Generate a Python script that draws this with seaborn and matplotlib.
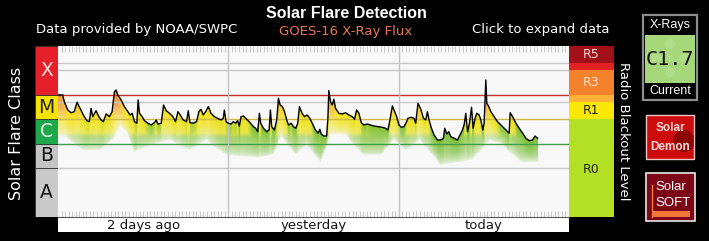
import numpy as np
import matplotlib
matplotlib.use('Agg')
import matplotlib.pyplot as plt
import seaborn as sns
import pandas as pd
from matplotlib.colors import LinearSegmentedColormap
from matplotlib.patches import Rectangle, Circle, Ellipse

# ---------------- data ----------------
hours = [0.0, 0.66, 0.89, 1.37, 1.84, 2.30, 2.68, 3.11, 3.57, 4.05,
         4.42, 4.66, 4.90, 5.36, 5.75, 6.07, 6.40, 6.78, 7.24, 7.62,
         7.95, 8.19, 8.43, 8.89, 9.36, 9.84, 10.16, 10.45, 10.77, 11.11,
         11.29, 11.48, 11.86, 12.18, 12.66, 13.13, 13.60, 13.84, 14.08, 14.54,
         14.87, 15.25, 15.71, 16.19, 16.56, 16.90, 17.22, 17.65, 18.11, 18.35,
         18.59, 19.06, 19.52, 19.86, 20.15, 20.47, 20.80, 21.18, 21.56, 22.02,
         22.49, 22.97, 23.29, 23.44, 23.68, 24.00, 24.38, 24.71, 25.03, 25.31,
         25.55, 25.79, 26.12, 26.58, 27.06, 27.53, 27.85, 28.14, 28.38, 28.56,
         28.94, 29.41, 29.75, 29.93, 30.11, 30.49, 30.82, 31.06, 31.30, 31.62,
         31.91, 32.23, 32.47, 32.85, 33.18, 33.50, 33.78, 34.02, 34.38, 34.73,
         35.11, 35.48, 35.82, 36.28, 36.66, 36.89, 37.09, 37.45, 37.84, 38.02,
         38.16, 38.40, 38.64, 38.87, 39.11, 39.57, 40.05, 40.52, 40.98, 41.46,
         41.79, 42.07, 42.40, 42.73, 43.10, 43.58, 44.05, 44.51, 45.08, 45.70,
         46.16, 46.49, 46.77, 47.11, 47.44, 47.72, 48.04, 48.38, 48.75, 49.13,
         49.31, 49.69, 50.16, 50.40, 50.72, 51.11, 51.49, 51.81, 52.05, 52.28,
         52.62, 52.98, 53.46, 53.93, 54.31, 54.49, 54.78, 55.06, 55.34, 55.81,
         56.29, 56.65, 56.99, 57.22, 57.46, 57.70, 57.98, 58.27, 58.49, 58.77,
         59.01, 59.34, 59.58, 59.86, 60.04, 60.28, 60.42, 60.66, 60.99, 61.45,
         61.93, 62.40, 62.87, 63.35, 63.57, 63.71, 64.05, 64.52, 64.98, 65.46,
         65.93, 66.39, 66.87, 67.20, 67.58]

flux_long = [9.9e-5, 9.9e-5, 5.2e-5, 2.4e-5, 1.86e-5, 2.05e-5, 5.0e-5, 2.8e-5, 1.5e-5, 8.8e-6,
             8.0e-6, 2.8e-5, 1.28e-5, 2.25e-5, 1.28e-5, 9.35e-6, 8.0e-6, 1.65e-5, 1.28e-5, 2.05e-5,
             1.35e-4, 1.58e-4, 9.9e-5, 6.2e-5, 3.3e-5, 2.05e-5, 1.5e-5, 1.76e-5, 8.0e-6, 6.9e-6,
             6.2e-5, 1.76e-5, 1.28e-5, 8.8e-6, 6.9e-6, 5.85e-6, 7.3e-6, 9.35e-6, 6.4e-6, 6.9e-6,
             3.85e-5, 2.25e-5, 1.76e-5, 1.28e-5, 8.0e-6, 2.05e-5, 1.5e-5, 9.35e-6, 8.0e-6, 2.25e-5,
             7.3e-6, 6.9e-6, 8.0e-6, 2.05e-5, 2.56e-5, 1.5e-5, 2.05e-5, 3.3e-5, 1.76e-5, 1.28e-5,
             1.1e-5, 9.35e-6, 1.1e-5, 2.4e-5, 8.0e-6, 6.9e-6, 6.4e-6, 8.0e-6, 6.9e-6, 8.8e-6,
             5.3e-6, 1.28e-5, 1.36e-5, 1.0e-5, 7.3e-6, 5.0e-6, 4.3e-6, 3.1e-6, 1.76e-5, 6.9e-6,
             4.3e-6, 3.1e-6, 3.65e-6, 2.4e-5, 5.0e-6, 3.65e-6, 9.35e-6, 7.2e-5, 3.85e-5, 3.3e-5,
             2.05e-5, 9.35e-6, 5.85e-6, 6.9e-6, 5.0e-6, 4.3e-6, 6.9e-6, 3.3e-5, 1.76e-5, 1.28e-5,
             1.5e-5, 1.1e-5, 6.9e-6, 3.65e-6, 2.7e-6, 3.9e-6, 2.5e-6, 2.07e-6, 2.07e-6, 9.35e-6,
             1.5e-4, 5.2e-5, 3.85e-5, 6.6e-5, 2.8e-5, 1.76e-5, 1.65e-5, 1.86e-5, 1.5e-5, 1.28e-5,
             1.0e-5, 2.4e-5, 1.76e-5, 7.3e-6, 5.85e-6, 6.4e-6, 5.85e-6, 5.3e-6, 5.0e-6, 4.7e-6,
             4.3e-6, 3.65e-6, 9.35e-6, 3.5e-5, 2.05e-5, 1.28e-5, 5.85e-6, 4.7e-6, 5.0e-6, 8.0e-6,
             1.1e-5, 1.21e-5, 1.1e-5, 6.9e-6, 4.5e-5, 2.6e-5, 1.1e-5, 9.35e-6, 2.05e-5, 9.35e-6,
             4.3e-6, 2.3e-6, 1.42e-6, 1.42e-6, 1.67e-6, 4.3e-6, 2.5e-6, 3.1e-6, 1.94e-6, 1.67e-6,
             1.42e-6, 2.3e-6, 3.65e-6, 5.85e-6, 1.76e-5, 3.1e-6, 6.9e-6, 3.1e-5, 4.3e-6, 1.1e-5,
             1.76e-5, 1.5e-5, 9.35e-6, 3.65e-6, 6.9e-6, 4.1e-4, 4.5e-5, 3.5e-5, 2.05e-5, 1.28e-5,
             8.0e-6, 5.85e-6, 4.3e-6, 3.1e-6, 2.7e-6, 1.86e-5, 1.28e-5, 6.9e-6, 4.3e-6, 2.7e-6,
             1.67e-6, 1.33e-6, 1.42e-6, 2.07e-6, 1.67e-6]

short_hours = [0.0, 1.1, 3.4, 5.9, 7.8, 8.75, 9.7, 10.7, 13.0, 15.7,
               18.5, 20.9, 23.6, 28.1, 30.2, 31.5, 33.5, 35.0, 37.0, 38.4,
               40.5, 42.9, 45.5, 47.3, 49.1, 51.0, 53.9, 58.4, 60.8, 62.4,
               65.2, 67.6]
flux_short = [1.9e-6, 1.9e-6, 5.5e-7, 5.5e-7, 1.5e-6, 5.85e-6, 3.0e-6, 4.6e-7, 8.9e-7, 1.42e-6,
              5.5e-7, 1.42e-6, 3.45e-7, 2.6e-7, 3.45e-7, 1.9e-6, 3.45e-7, 8.9e-7, 1.78e-7, 2.5e-6,
              2.3e-6, 3.45e-7, 3.45e-7, 1.42e-6, 5.5e-7, 1.42e-6, 1.35e-7, 2.16e-7, 1.42e-6, 1.0e-6,
              1.78e-7, 1.78e-7]

class_names = ['A', 'B', 'C', 'M', 'X']
class_low = [1e-9, 1e-7, 1e-6, 1e-5, 1e-4]
class_high = [1e-7, 1e-6, 1e-5, 1e-4, 1e-2]
class_colors = ['#c9c9c9', '#c4c4c4', '#1ea84b', '#f6e400', '#e5202a']
class_text_colors = ['#111111', '#111111', '#e4f4e4', '#222222', '#fae0e0']

r_names = ['R0', 'R1', 'R2', 'R3', 'R4', 'R5']
r_low = [1e-9, 1e-5, 5e-5, 1e-4, 1e-3, 2e-3]
r_high = [1e-5, 5e-5, 1e-4, 1e-3, 2e-3, 1e-2]
r_colors = ['#b3e024', '#fbe800', '#fbb236', '#f5832e', '#e02222', '#a10f19']
r_text = ['R0', 'R1', '', 'R3', '', 'R5']
r_text_colors = ['#222222', '#222222', '#222222', '#fde0c8', '#ffffff', '#f6d6d6']

day_centers = [12, 36, 60]
day_labels = ['2 days ago', 'yesterday', 'today']
day_bounds = [24, 48]
current_value = 'C1.7'

# ---------------- figure ----------------
W, H = 709, 241
fig = plt.figure(figsize=(W / 100, H / 100), dpi=100, facecolor='black')


def px_axes(x0, y0, x1, y1, **kw):
    return fig.add_axes([x0 / W, 1 - y1 / H, (x1 - x0) / W, (y1 - y0) / H], **kw)


def ftext(x, y, s, **kw):
    fig.text(x / W, 1 - y / H, s, **kw)


ax = px_axes(58, 46, 569, 217)
ax.set_facecolor('#f8f8f8')
ax.set_yscale('log')
ax.set_xlim(0, 72)
ax.set_ylim(1e-9, 1e-2)

# gradient fill between long and short channel
stops = [(-7.0, '#8ccc52'), (-5.9, '#74bc34'), (-5.25, '#86c434'), (-5.05, '#e4e018'),
         (-4.6, '#f6e312'), (-4.25, '#f2c030'), (-3.9, '#ec9640'), (-3.0, '#e57a40')]
cmap = LinearSegmentedColormap.from_list('flare', [((v + 7) / 4, c) for v, c in stops])
nx, ny = 540, 350
t_edges = np.linspace(0, 72, nx + 1)
v_edges = np.linspace(-9, -2, ny + 1)
tc = 0.5 * (t_edges[:-1] + t_edges[1:])
vc = 0.5 * (v_edges[:-1] + v_edges[1:])
top = np.interp(tc, hours, np.log10(flux_long))
low = np.interp(tc, short_hours, np.log10(flux_short))
low = np.minimum(low, top - 0.3)
frac = (vc[:, None] - low[None, :]) / (top - low)[None, :]
alpha = np.clip(frac, 0, 1) ** 0.5
alpha[vc[:, None] > top[None, :]] = 0
alpha[:, (tc < hours[0]) | (tc > hours[-1])] = 0
cval = np.minimum(top[None, :], vc[:, None] + 0.5)
rgba = cmap(np.clip((cval + 7) / 4, 0, 1))
rgba[..., 3] = alpha
ax.pcolormesh(t_edges, 10 ** v_edges, rgba, shading='flat', zorder=1, rasterized=True)

# reference lines
for yv, col in [(2e-3, '#c8c8c8'), (1e-3, '#c8c8c8'), (5e-5, '#c8c8c8'), (1e-7, '#c8c8c8'),
                (1e-4, '#c6302e'), (1e-5, '#cdb945'), (1e-6, '#3f9f48')]:
    ax.axhline(yv, color=col, lw=1.0, zorder=2)
for xv in day_bounds:
    ax.axvline(xv, color='#c4c4c4', lw=1.0, zorder=2)

df = pd.DataFrame({'hours': hours, 'flux': flux_long})
sns.lineplot(data=df, x='hours', y='flux', ax=ax, color='black', lw=1.0, zorder=4)
ax.set_xlabel('')
ax.set_ylabel('')
ax.set_xticks(np.arange(0.5, 72, 0.5))
ax.set_xticklabels([])
ax.set_yticks([])
ax.set_yticks([], minor=True)
ax.tick_params(axis='x', direction='in', length=4, width=0.6, color='#c0c0c0',
               top=True, bottom=True, labelbottom=False)
for s in ax.spines.values():
    s.set_visible(False)

# class bar on the left
axc = px_axes(35, 46, 58, 217)
axc.set_yscale('log')
axc.bar([0] * 5, [h - l for h, l in zip(class_high, class_low)], bottom=class_low, width=1.0,
        color=class_colors, edgecolor='#333333', linewidth=0.6)
for n, l, h, tcl in zip(class_names, class_low, class_high, class_text_colors):
    axc.text(0, np.sqrt(l * h), n, ha='center', va='center', fontsize=13.5, color=tcl,
             family='DejaVu Sans')
axc.set_xlim(-0.5, 0.5)
axc.set_ylim(1e-9, 1e-2)
axc.axis('off')

# radio blackout bar on the right
axr = px_axes(569, 46, 614, 217)
axr.set_yscale('log')
axr.bar([0] * 6, [h - l for h, l in zip(r_high, r_low)], bottom=r_low, width=1.0,
        color=r_colors, edgecolor='none')
for n, l, h, tcl in zip(r_text, r_low, r_high, r_text_colors):
    if n:
        yy = np.sqrt(l * h) if n != 'R0' else 8.4e-8
        axr.text(0, yy, n, ha='center', va='center', fontsize=9, color=tcl, family='DejaVu Sans')
axr.set_xlim(-0.5, 0.5)
axr.set_ylim(1e-9, 1e-2)
axr.axis('off')

# day label strip
axl = px_axes(58, 217, 569, 232)
axl.set_facecolor('white')
axl.set_xlim(0, 72)
axl.set_ylim(0, 1)
for xc, lab in zip(day_centers, day_labels):
    axl.text(xc, 0.45, lab, ha='center', va='center', fontsize=9.5, color='#151515',
             family='DejaVu Sans')
axl.set_xticks([])
axl.set_yticks([])
for k, s in axl.spines.items():
    s.set_visible(k == 'top')
axl.spines['top'].set_color('#555555')
axl.spines['top'].set_linewidth(0.8)

# texts
ftext(346, 13.5, 'Solar Flare Detection', ha='center', va='center', fontsize=11.5,
      fontweight='bold', color='white', family='Liberation Sans')
ftext(345.5, 31.5, 'GOES-16 X-Ray Flux', ha='center', va='center', fontsize=9.5,
      color='#e8784a', family='DejaVu Sans')
ftext(36, 29.5, 'Data provided by NOAA/SWPC', ha='left', va='center', fontsize=9.5,
      color='white', family='DejaVu Sans')
ftext(609, 29.5, 'Click to expand data', ha='right', va='center', fontsize=9.5,
      color='white', family='DejaVu Sans')
ftext(17, 133, 'Solar Flare Class', ha='center', va='center', rotation=90, fontsize=11.5,
      color='white', family='DejaVu Sans')
ftext(623, 131, 'Radio Blackout Level', ha='center', va='center', rotation=270, fontsize=9.5,
      color='white', family='DejaVu Sans')

# right side widgets in pixel coordinates
ov = fig.add_axes([0, 0, 1, 1], facecolor='none')
ov.set_xlim(0, W)
ov.set_ylim(H, 0)
ov.axis('off')

ov.add_patch(Rectangle((643, 15), 54, 85, facecolor='black', edgecolor='#8c8c8c', lw=1.6))
green = Rectangle((645, 35), 50, 48, facecolor='#a7d77b', edgecolor='none')
ov.add_patch(green)
for cx, cy, r in [(670, 44, 5), (656, 58, 5), (684, 58, 5), (670, 72, 5), (670, 58, 3)]:
    c = Circle((cx, cy), r, facecolor='#b6df90', edgecolor='none', alpha=0.7)
    ov.add_patch(c)
    c.set_clip_path(green)
ov.text(670, 25, 'X-Rays', ha='center', va='center', fontsize=9, color='white',
        family='Liberation Sans')
ov.text(670, 59.5, current_value, ha='center', va='center', fontsize=14.5, color='#111111',
        family='DejaVu Sans Mono')
ov.text(670, 91, 'Current', ha='center', va='center', fontsize=9, color='white',
        family='Liberation Sans')

demon = Rectangle((645.5, 115), 48.5, 44, facecolor='#cc0c0c', edgecolor='#f2c4c4', lw=1.0)
ov.add_patch(demon)
blob = Ellipse((684, 141), 22, 22, facecolor='#5a0000', edgecolor='none', alpha=0.55)
ov.add_patch(blob)
blob.set_clip_path(demon)
ov.text(670, 128, 'Solar', ha='center', va='center', fontsize=8.5, fontweight='bold',
        color='#f6d8d8', family='Liberation Sans')
ov.text(670, 147, 'Demon', ha='center', va='center', fontsize=8.5, fontweight='bold',
        color='#f6d8d8', family='Liberation Sans')

ov.add_patch(Rectangle((646, 173), 49, 48, facecolor='#7c0618', edgecolor='#e8e8e8', lw=1.2))
ov.add_patch(Rectangle((652, 211), 38, 5.5, facecolor='#f07838', edgecolor='none'))
ov.plot([651.5, 651.5], [185, 216.5], color='#f07838', lw=1.0)
ov.text(655, 187, 'Solar', ha='left', va='center', fontsize=9.5, color='white',
        family='Liberation Sans')
ov.text(655, 203, 'SOFT', ha='left', va='center', fontsize=9.5, color='white',
        family='Liberation Sans')

fig.savefig('out.png', dpi=100, facecolor='black')
